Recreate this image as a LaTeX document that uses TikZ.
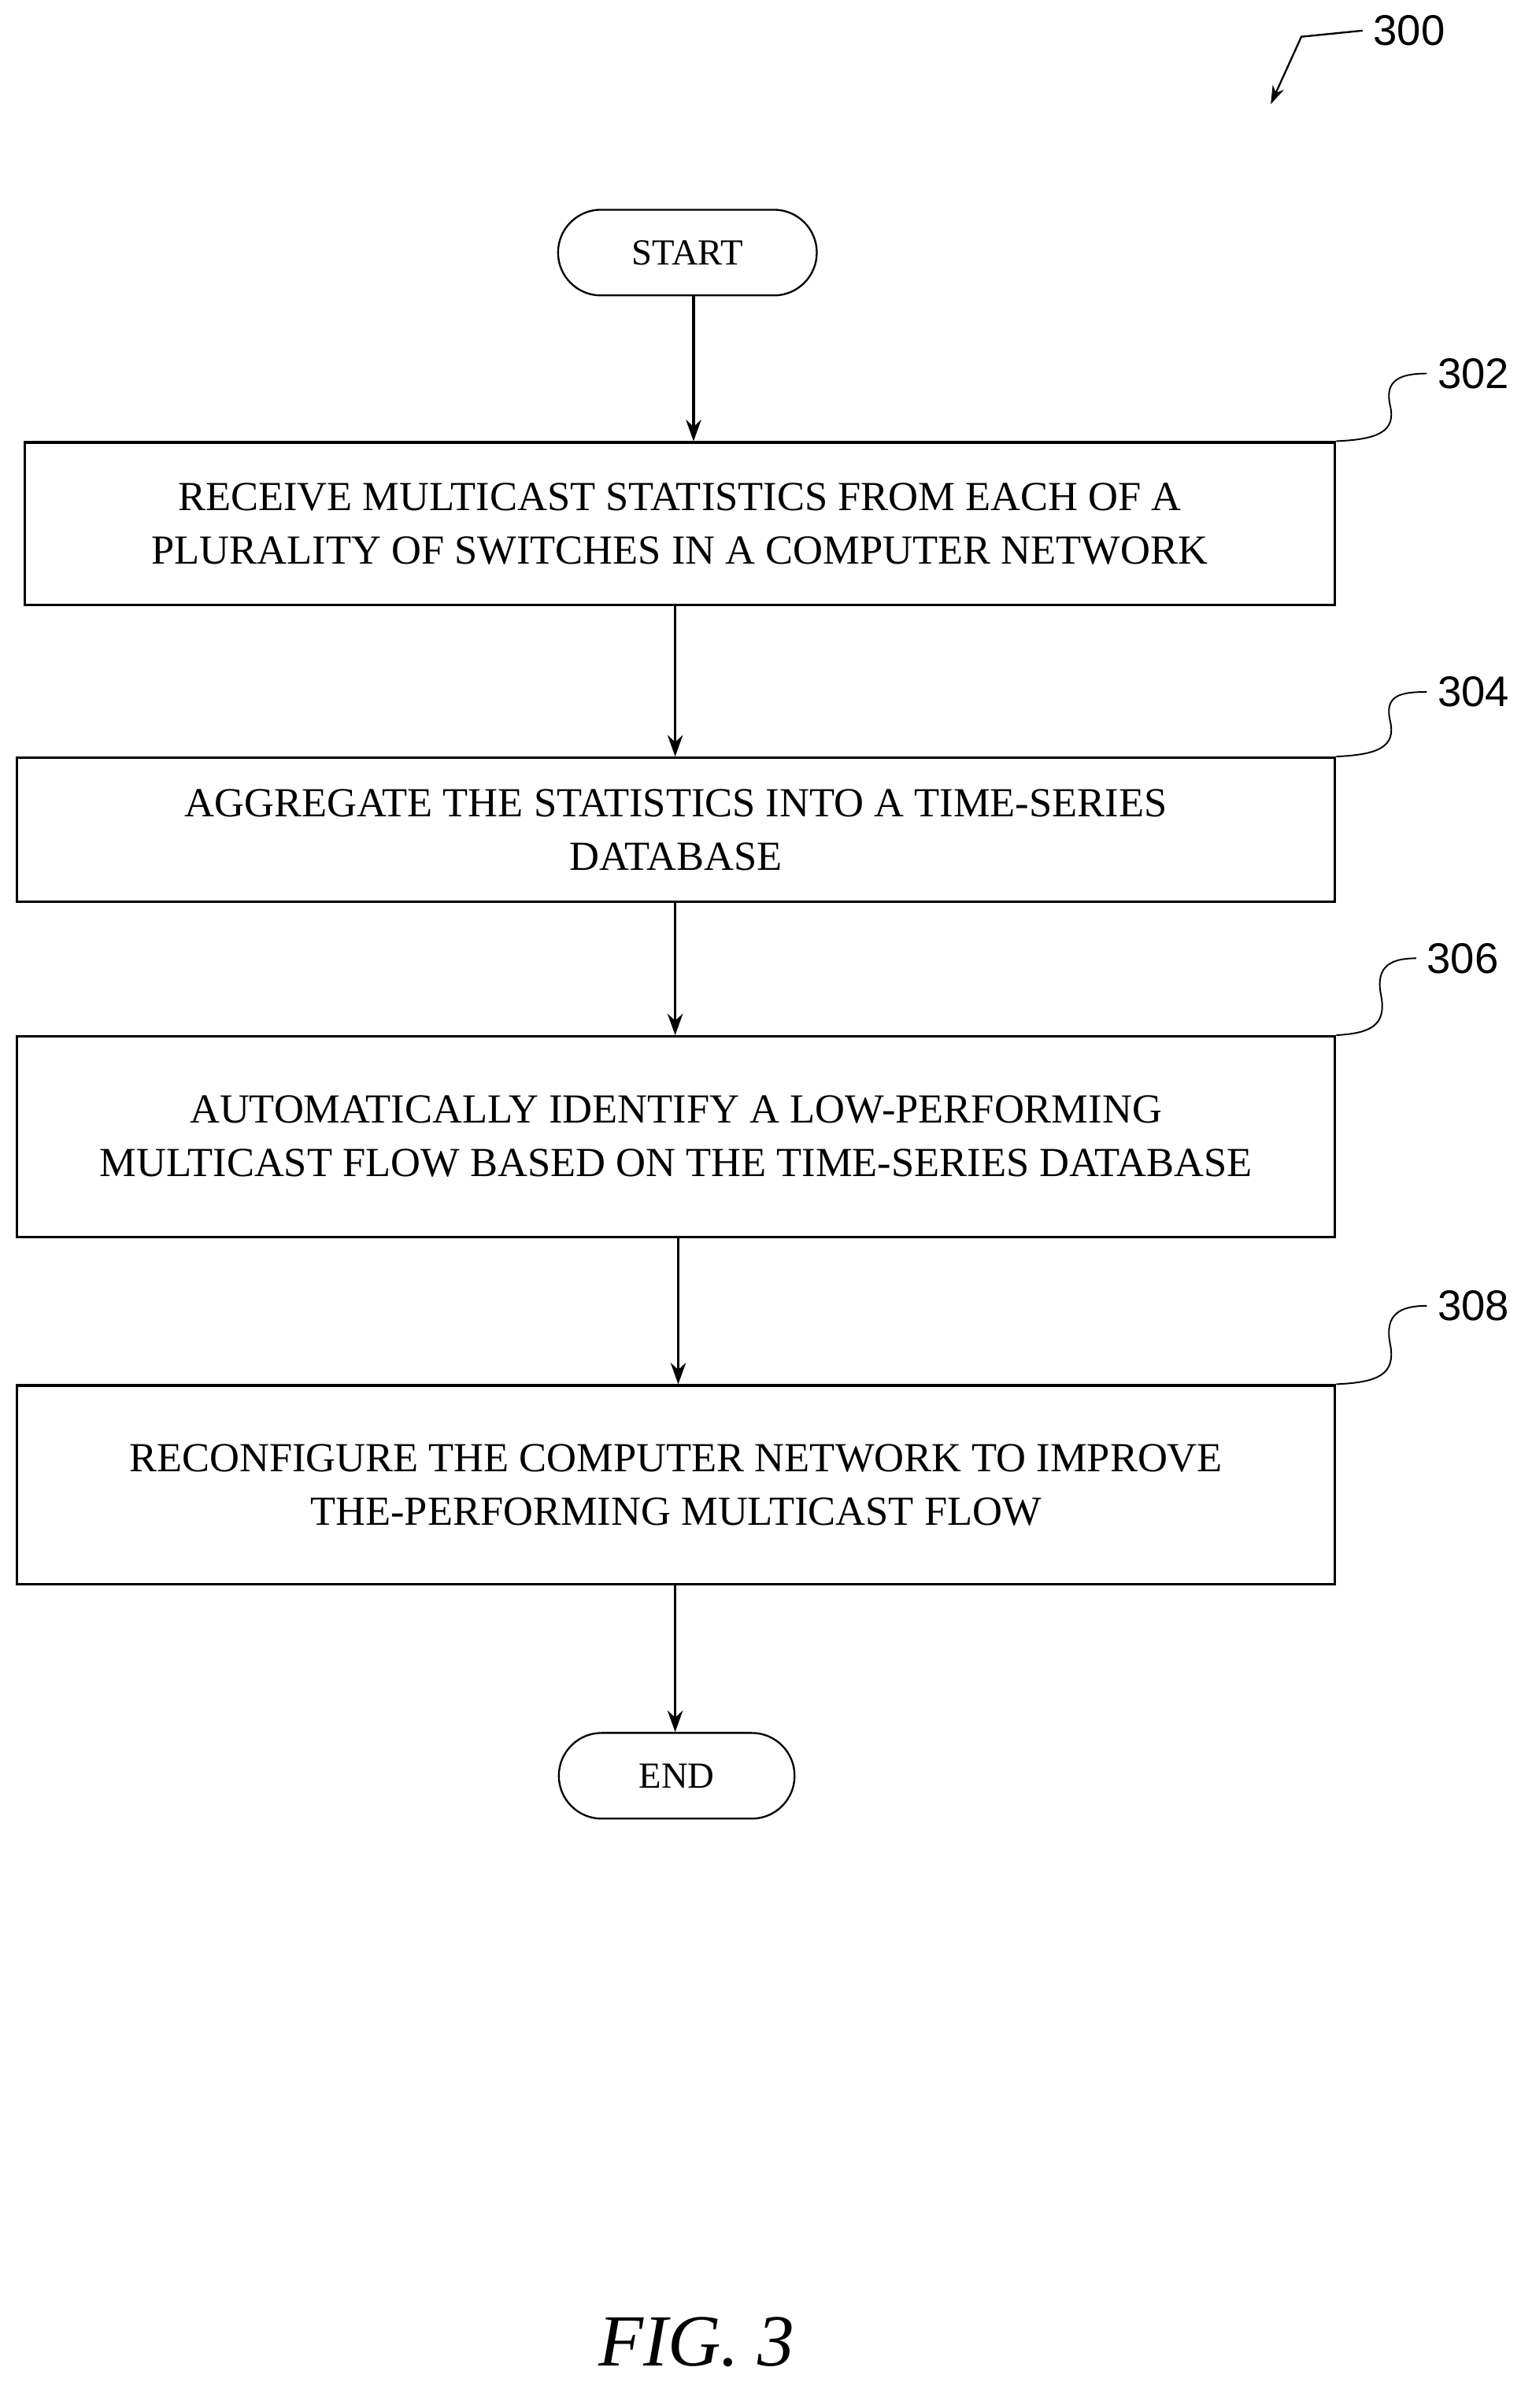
\documentclass[tikz,border=0pt]{standalone}
\usepackage{fontspec}
\setmainfont{Liberation Serif}
\newfontfamily\lab{Liberation Sans}
\usetikzlibrary{arrows.meta}
\begin{document}
\begin{tikzpicture}[x=0.5pt,y=-0.5pt,
 box/.style={draw,line width=0.8pt,inner sep=0pt,align=center,font=\fontsize{13.5}{17.5}\selectfont},
 term/.style={draw,line width=0.6pt,rounded corners=14pt,align=center,font=\fontsize{12}{14}\selectfont,inner sep=0pt},
 arr/.style={-{Stealth[length=7pt,width=5pt]},line width=0.8pt},
 ref/.style={font=\lab\fontsize{14}{16}\selectfont},
 sq/.style={line width=0.5pt}]
\useasboundingbox (0,0) rectangle (993,1573);
\node[term,minimum width=84.5pt,minimum height=28pt] (start) at (449,165) {START};
\node[box,minimum width=428pt,minimum height=53pt] (b1) at (444,342) {RECEIVE MULTICAST STATISTICS FROM EACH OF A\\PLURALITY OF SWITCHES IN A COMPUTER NETWORK};
\node[box,minimum width=430.5pt,minimum height=47pt] (b2) at (441.5,542) {AGGREGATE THE STATISTICS INTO A TIME-SERIES\\DATABASE};
\node[box,minimum width=430.5pt,minimum height=65.5pt] (b3) at (441.5,742.5) {AUTOMATICALLY IDENTIFY A LOW-PERFORMING\\MULTICAST FLOW BASED ON THE TIME-SERIES DATABASE};
\node[box,minimum width=430.5pt,minimum height=65pt] (b4) at (441.5,970) {RECONFIGURE THE COMPUTER NETWORK TO IMPROVE\\THE-PERFORMING MULTICAST FLOW};
\node[term,minimum width=77pt,minimum height=28pt] (end) at (442,1160) {END};
\draw[arr] (start.south -| 453,0) -- (b1.north -| 453,0);
\draw[arr] (b1.south -| 441,0) -- (b2.north -| 441,0);
\draw[arr] (b2.south -| 441,0) -- (b3.north -| 441,0);
\draw[arr] (b3.south -| 443,0) -- (b4.north -| 443,0);
\draw[arr] (b4.south -| 441,0) -- (end.north -| 441,0);
\node[ref,anchor=west] (l302) at (932,244) {302};
\node[ref,anchor=west] (l304) at (932,452) {304};
\node[ref,anchor=west] (l306) at (925,626) {306};
\node[ref,anchor=west] (l308) at (932,853) {308};
\draw[sq] (b1.north east) .. controls (900,287) and (912,282) .. (908,265) .. controls (904,248) and (915,244) .. (l302.west);
\draw[sq] (b2.north east) .. controls (900,493) and (912,488) .. (908,471) .. controls (904,454) and (915,452) .. (l304.west);
\draw[sq] (b3.north east) .. controls (895,675) and (906,670) .. (902,650) .. controls (898,630) and (910,626) .. (l306.west);
\draw[sq] (b4.north east) .. controls (900,903) and (912,898) .. (908,878) .. controls (904,858) and (915,853) .. (l308.west);
\node[ref,anchor=west] (l300) at (890,20) {300};
\coordinate (t300) at (830,68);
\draw[-{Stealth[length=6pt,width=4pt]},line width=0.6pt] (l300.west) -- (850,24) -- (t300);
\node[font=\itshape\fontsize{24}{28}\selectfont] (fig) at (455,1530) {FIG. 3};
\end{tikzpicture}
\end{document}
